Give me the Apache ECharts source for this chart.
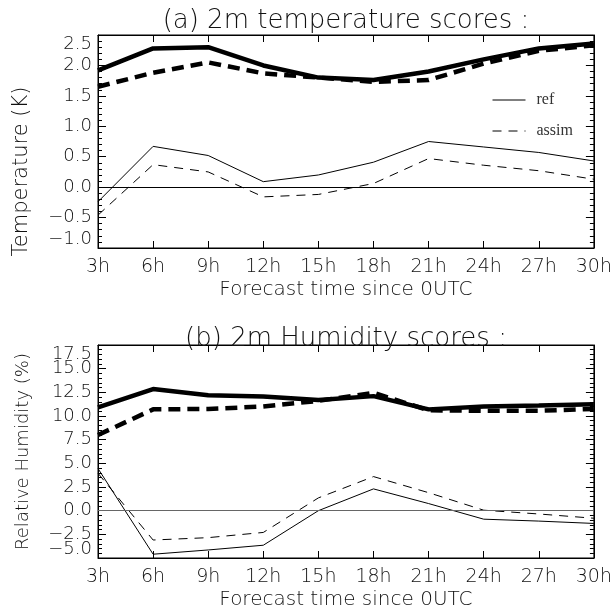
<!DOCTYPE html>
<html>
<head>
<meta charset="utf-8">
<script src="https://cdn.jsdelivr.net/npm/echarts@6/dist/echarts.min.js"></script>
<style>
  html, body { margin: 0; padding: 0; background: #fff; }
  #scoresChart { width: 615px; height: 613px; }
</style>
</head>
<body>
<div id="scoresChart"></div>
<script>
// forecast lead times
const hours = ['3h', '6h', '9h', '12h', '15h', '18h', '21h', '24h', '27h', '30h'];

// (a) 2m temperature (K): thick = rms, thin = bias
const tempRmsRef = [1.92, 2.28, 2.30, 2.00, 1.80, 1.76, 1.90, 2.10, 2.28, 2.36];
const tempRmsAssim = [1.65, 1.88, 2.05, 1.87, 1.80, 1.73, 1.76, 2.03, 2.24, 2.33];
const tempBiasRef = [-0.24, 0.67, 0.52, 0.09, 0.20, 0.41, 0.75, 0.66, 0.57, 0.43];
const tempBiasAssim = [-0.46, 0.37, 0.25, -0.16, -0.12, 0.06, 0.47, 0.36, 0.27, 0.13];

// (b) 2m relative humidity (%)
const humRmsRef = [10.9, 12.85, 12.2, 12.05, 11.7, 12.1, 10.7, 11.0, 11.1, 11.25];
const humRmsAssim = [8.0, 10.7, 10.75, 11.0, 11.6, 12.45, 10.6, 10.55, 10.55, 10.75];
const humBiasRef = [4.45, -4.6, -4.15, -3.65, 0.0, 2.3, 0.75, -0.9, -1.1, -1.35];
const humBiasAssim = [3.95, -3.1, -2.85, -2.3, 1.35, 3.6, 1.9, 0.05, -0.35, -0.8];

const sansFont = 'DejaVu Sans';
const ink = '#111';

let chartDom = document.getElementById('scoresChart');
let myChart = echarts.init(chartDom);
let option;

const fmt = v => v.toFixed(1).replace('-', '\u2212');

function bottomAxis(grid) {
    return {
        type: 'category', gridIndex: grid, data: hours, boundaryGap: false,
        name: 'Forecast time since 0UTC', nameLocation: 'middle', nameGap: 32,
        nameTextStyle: { fontFamily: sansFont, fontSize: 20, fontWeight: 200, color: ink },
        axisLine: { onZero: false, lineStyle: { color: '#000', width: 1 } },
        axisTick: { inside: true, length: 7, lineStyle: { color: '#000' } },
        axisLabel: { fontFamily: sansFont, fontSize: 19, fontWeight: 200, color: ink, margin: 10 },
        splitLine: { show: false }
    };
}

function topAxis(grid) {
    return {
        type: 'category', gridIndex: grid, data: hours, boundaryGap: false, position: 'top',
        axisLine: { onZero: false, lineStyle: { color: '#000', width: 1 } },
        axisTick: { inside: true, length: 7, lineStyle: { color: '#000' } },
        axisLabel: { show: false },
        splitLine: { show: false }
    };
}

// inner tick labels (ends handled by endLabelAxis so they can crowd like the original)
function leftAxis(grid, min, max, step, name, nameSize, namePad) {
    return {
        type: 'value', gridIndex: grid, min: min, max: max, interval: step,
        name: name, nameLocation: 'middle', nameGap: 66,
        nameTextStyle: { fontFamily: sansFont, fontSize: nameSize, fontWeight: 200, color: ink, padding: namePad },
        axisLine: { show: true, onZero: false, lineStyle: { color: '#000', width: 1 } },
        axisTick: { show: true, inside: true, length: 8, lineStyle: { color: '#000' } },
        minorTick: { show: true, splitNumber: 5, length: 4, lineStyle: { color: '#000' } },
        axisLabel: {
            fontFamily: sansFont, fontSize: 18, fontWeight: 200, color: ink, margin: 6,
            showMinLabel: false, showMaxLabel: false, formatter: fmt
        },
        splitLine: { show: false }
    };
}

function endLabelAxis(grid, min, max) {
    return {
        type: 'value', gridIndex: grid, min: min, max: max, interval: max - min, position: 'left',
        axisLine: { show: false }, axisTick: { show: false },
        axisLabel: {
            fontFamily: sansFont, fontSize: 18, fontWeight: 200, color: ink, margin: 6,
            showMinLabel: true, showMaxLabel: true,
            verticalAlignMaxLabel: 'top', verticalAlignMinLabel: 'bottom', formatter: fmt
        },
        splitLine: { show: false }
    };
}

function rightAxis(grid, min, max, step) {
    return {
        type: 'value', gridIndex: grid, min: min, max: max, interval: step, position: 'right',
        axisLine: { show: true, onZero: false, lineStyle: { color: '#000', width: 1 } },
        axisTick: { show: true, inside: true, length: 8, lineStyle: { color: '#000' } },
        minorTick: { show: true, splitNumber: 5, length: 4, lineStyle: { color: '#000' } },
        axisLabel: { show: false },
        splitLine: { show: false }
    };
}

function line(name, data, xi, yi, width, dash) {
    return {
        name: name, type: 'line', data: data, xAxisIndex: xi, yAxisIndex: yi,
        symbol: 'none', smooth: false, animation: false, color: '#000',
        itemStyle: { color: '#000' },
        lineStyle: { color: '#000', width: width, type: dash || 'solid' }
    };
}

function zeroLine(color) {
    return {
        silent: true, symbol: ['none', 'none'], label: { show: false },
        lineStyle: { color: color, width: 1, type: 'solid' },
        data: [{ yAxis: 0 }]
    };
}

let biasRefA = line('ref', tempBiasRef, 0, 0, 1);
biasRefA.markLine = zeroLine('#000');
let biasRefB = line('ref', humBiasRef, 2, 3, 1);
biasRefB.markLine = zeroLine('#666');

option = {
    backgroundColor: '#fff',
    animation: false,
    title: [
        {
            text: '(a) 2m temperature scores :', left: 341, top: 3, textAlign: 'center',
            textStyle: { fontFamily: sansFont, fontSize: 26, fontWeight: 200, color: ink }
        },
        {
            text: '(b) 2m Humidity scores :', left: 341, top: 321, textAlign: 'center',
            textStyle: { fontFamily: sansFont, fontSize: 26, fontWeight: 200, color: ink }
        }
    ],
    legend: {
        orient: 'vertical', left: 487, top: 87, itemWidth: 33, itemHeight: 14, itemGap: 15,
        selectedMode: false,
        textStyle: { fontFamily: 'Liberation Serif', fontSize: 16, color: '#333', padding: [0, 0, 0, 6] },
        data: [
            { name: 'ref', itemStyle: { opacity: 0 }, lineStyle: { width: 1, color: '#000' } },
            { name: 'assim', itemStyle: { opacity: 0 }, lineStyle: { width: 1, color: '#000' } }
        ]
    },
    grid: [
        { left: 98, right: 18, top: 35, height: 213, show: true, borderColor: '#000', borderWidth: 1 },
        { left: 98, right: 18, top: 345, height: 213, show: true, borderColor: '#000', borderWidth: 1 }
    ],
    xAxis: [bottomAxis(0), topAxis(0), bottomAxis(1), topAxis(1)],
    yAxis: [
        leftAxis(0, -1, 2.5, 0.5, 'Temperature (K)', 21, [0, 60, 0, 0]),
        rightAxis(0, -1, 2.5, 0.5),
        endLabelAxis(0, -1, 2.5),
        leftAxis(1, -5, 17.5, 2.5, 'Relative Humidity (%)', 18, [0, 0, 0, 0]),
        rightAxis(1, -5, 17.5, 2.5),
        endLabelAxis(1, -5, 17.5)
    ],
    series: [
        biasRefA,
        line('assim', tempBiasAssim, 0, 0, 1, [9, 7]),
        line('ref', tempRmsRef, 0, 0, 4.5),
        line('assim', tempRmsAssim, 0, 0, 4.5, [12, 7]),
        biasRefB,
        line('assim', humBiasAssim, 2, 3, 1, [9, 7]),
        line('ref', humRmsRef, 2, 3, 4.5),
        line('assim', humRmsAssim, 2, 3, 4.5, [12, 7])
    ]
};

option && myChart.setOption(option);
</script>
</body>
</html>
